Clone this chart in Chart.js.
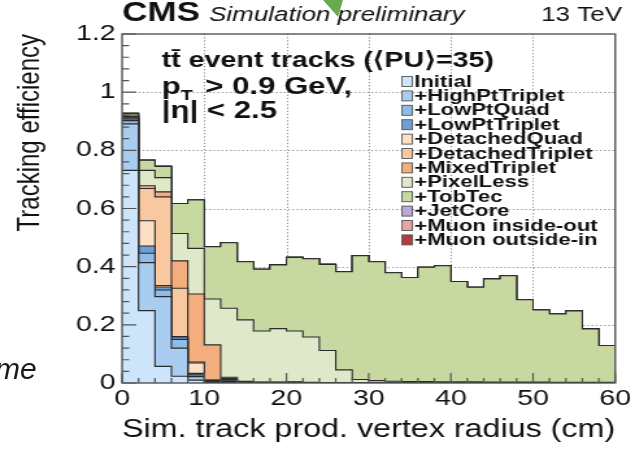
<!DOCTYPE html>
<html>
<head>
<meta charset="utf-8">
<script src="https://cdn.jsdelivr.net/npm/chart.js@4.4.1/dist/chart.umd.min.js"></script>
<style>
  html, body { margin: 0; padding: 0; background: #fff; overflow: hidden; }
  #page { position: relative; width: 635px; height: 450px; overflow: hidden; }
  #plot { position: absolute; left: 0; top: 0; width: 489px; height: 450px; transform: scaleX(1.2986); transform-origin: 0 0; }
  #arrow { position: absolute; left: 323px; top: 0; width: 20px; height: 17px; background: #6aaa4e; clip-path: polygon(0 0, 100% 0, 75% 100%); }
  #me { position: absolute; left: -5px; top: 352px; font: italic 30px "Liberation Sans", Arial, sans-serif; color: #1a1a1a; }
</style>
</head>
<body>
<div id="page">
  <div id="plot"><canvas id="chart" width="489" height="450"></canvas></div>
  <div id="arrow"></div>
  <div id="me">me</div>
</div>
<script>
// bins of 2 cm, lower edges
const binLow = [0, 2, 4, 6, 8, 10, 12, 14, 16, 18, 20, 22, 24, 26, 28, 30, 32, 34, 36, 38, 40, 42, 44, 46, 48, 50, 52, 54, 56, 58];
const binHigh = 60;

// cumulative efficiency after each iteration
const initial = [0.731, 0.249, 0.057, 0.023, 0.010, 0.002, 0.002, 0.001, 0, 0, 0, 0, 0, 0, 0, 0, 0, 0, 0, 0, 0, 0, 0, 0, 0, 0, 0, 0, 0, 0];
const highPtTriplet = [0.891, 0.414, 0.297, 0.120, 0.022, 0.004, 0.003, 0.001, 0, 0, 0, 0, 0, 0, 0, 0, 0, 0, 0, 0, 0, 0, 0, 0, 0, 0, 0, 0, 0, 0];
const lowPtQuad = [0.902, 0.446, 0.320, 0.150, 0.028, 0.005, 0.005, 0.002, 0.001, 0, 0, 0, 0, 0, 0, 0, 0, 0, 0, 0, 0, 0, 0, 0, 0, 0, 0, 0, 0, 0];
const lowPtTriplet = [0.908, 0.471, 0.330, 0.158, 0.033, 0.008, 0.010, 0.003, 0.001, 0.001, 0.001, 0, 0, 0, 0, 0, 0, 0, 0, 0, 0, 0, 0, 0, 0, 0, 0, 0, 0, 0];
const detachedQuad = [0.912, 0.558, 0.335, 0.160, 0.069, 0.009, 0.012, 0.004, 0.001, 0.001, 0.001, 0, 0, 0, 0, 0, 0, 0, 0, 0, 0, 0, 0, 0, 0, 0, 0, 0, 0, 0];
const detachedTriplet = [0.914, 0.669, 0.640, 0.326, 0.072, 0.010, 0.015, 0.005, 0.002, 0.002, 0.002, 0.001, 0, 0, 0, 0, 0, 0, 0, 0, 0, 0, 0, 0, 0, 0, 0, 0, 0, 0];
const mixedTriplet = [0.916, 0.678, 0.657, 0.420, 0.306, 0.131, 0.020, 0.006, 0.003, 0.003, 0.004, 0.002, 0.001, 0.001, 0, 0, 0, 0, 0, 0, 0, 0, 0, 0, 0, 0, 0, 0, 0, 0];
const pixelLess = [0.918, 0.731, 0.706, 0.514, 0.463, 0.289, 0.257, 0.217, 0.179, 0.187, 0.179, 0.158, 0.112, 0.045, 0.012, 0.008, 0.006, 0.005, 0.005, 0.004, 0.004, 0.004, 0.003, 0.003, 0.003, 0.003, 0.002, 0.002, 0.002, 0.002];
const tobTec = [0.925, 0.766, 0.745, 0.617, 0.629, 0.469, 0.482, 0.417, 0.391, 0.406, 0.432, 0.427, 0.408, 0.383, 0.438, 0.417, 0.379, 0.363, 0.398, 0.403, 0.349, 0.329, 0.358, 0.369, 0.286, 0.251, 0.237, 0.248, 0.186, 0.129];
const jetCore = [0.926, 0.766, 0.745, 0.617, 0.629, 0.469, 0.482, 0.417, 0.391, 0.406, 0.432, 0.427, 0.408, 0.383, 0.438, 0.417, 0.379, 0.363, 0.398, 0.403, 0.349, 0.329, 0.358, 0.369, 0.286, 0.251, 0.237, 0.248, 0.186, 0.129];
const muonInsideOut = [0.927, 0.766, 0.745, 0.617, 0.629, 0.469, 0.482, 0.417, 0.391, 0.406, 0.432, 0.427, 0.408, 0.383, 0.438, 0.417, 0.379, 0.363, 0.398, 0.403, 0.349, 0.329, 0.358, 0.369, 0.286, 0.251, 0.237, 0.248, 0.186, 0.129];
const muonOutsideIn = [0.928, 0.767, 0.745, 0.617, 0.629, 0.469, 0.482, 0.417, 0.391, 0.406, 0.432, 0.427, 0.408, 0.383, 0.438, 0.417, 0.379, 0.363, 0.398, 0.403, 0.349, 0.329, 0.358, 0.369, 0.286, 0.251, 0.237, 0.248, 0.186, 0.129];

const seriesNames = ["Initial", "+HighPtTriplet", "+LowPtQuad", "+LowPtTriplet", "+DetachedQuad", "+DetachedTriplet",
  "+MixedTriplet", "+PixelLess", "+TobTec", "+JetCore", "+Muon inside-out", "+Muon outside-in"];
const seriesValues = [initial, highPtTriplet, lowPtQuad, lowPtTriplet, detachedQuad, detachedTriplet,
  mixedTriplet, pixelLess, tobTec, jetCore, muonInsideOut, muonOutsideIn];
const seriesColors = ["#cde5fb", "#a9cdf1", "#8fbbe8", "#6d9fd6", "#fddfc6", "#f9c8a1", "#f4ae7d",
  "#dfe8c9", "#c7d9a1", "#b8a9d9", "#e9a3a3", "#b53a3a"];

const xTicks = [0, 10, 20, 30, 40, 50, 60];
const xTickLabels = ["0", "10", "20", "30", "40", "50", "60"];
const yTicks = [0, 0.2, 0.4, 0.6, 0.8, 1, 1.2];
const yTickLabels = ["0", "0.2", "0.4", "0.6", "0.8", "1", "1.2"];

const FONT = '"Liberation Sans", Arial, Helvetica, sans-serif';

function histPoints(values) {
  const pts = values.map((v, i) => ({ x: binLow[i], y: v }));
  pts.push({ x: binHigh, y: values[values.length - 1] });
  return pts;
}

const datasets = seriesValues.map((values, i) => ({
  label: seriesNames[i],
  data: histPoints(values),
  stepped: "before",
  fill: i === 0 ? "origin" : "-1",
  backgroundColor: seriesColors[i],
  borderColor: "#2a2a2a",
  borderWidth: 1.1,
  pointRadius: 0,
  tension: 0,
}));

function tickLabel(ticks, labels, v) {
  const i = ticks.findIndex((t) => Math.abs(t - v) < 1e-6);
  return i >= 0 ? labels[i] : "";
}

// ROOT style frame, inward ticks, dotted grid, header, text and legend
const decorations = {
  id: "decorations",
  beforeDatasetsDraw(chart) {
    const { ctx, chartArea: a, scales: { x, y } } = chart;
    ctx.save();
    ctx.strokeStyle = "#8c8c8c";
    ctx.lineWidth = 1;
    ctx.setLineDash([1.2, 2]);
    xTicks.slice(1, -1).forEach((t) => {
      const px = Math.round(x.getPixelForValue(t)) + 0.5;
      ctx.beginPath();
      ctx.moveTo(px, a.top);
      ctx.lineTo(px, a.bottom);
      ctx.stroke();
    });
    yTicks.slice(1, -1).forEach((t) => {
      const py = Math.round(y.getPixelForValue(t)) + 0.5;
      ctx.beginPath();
      ctx.moveTo(a.left, py);
      ctx.lineTo(a.right, py);
      ctx.stroke();
    });
    ctx.restore();
  },
  afterDatasetsDraw(chart) {
    const { ctx, chartArea: a, scales: { x, y } } = chart;
    ctx.save();
    ctx.strokeStyle = "#555";
    ctx.lineWidth = 1.2;
    ctx.beginPath();
    for (let v = 0; v <= 60.001; v += 2) {
      const px = x.getPixelForValue(v);
      const len = Math.abs(v % 10) < 1e-6 ? 10 : 5;
      ctx.moveTo(px, a.bottom);
      ctx.lineTo(px, a.bottom - len);
    }
    for (let k = 0; k <= 30; k++) {
      const v = k * 0.04;
      const py = y.getPixelForValue(v);
      const len = k % 5 === 0 ? 11 : 5.5;
      ctx.moveTo(a.left, py);
      ctx.lineTo(a.left + len, py);
    }
    ctx.stroke();
    ctx.lineWidth = 1.4;
    ctx.strokeRect(a.left, a.top, a.right - a.left, a.bottom - a.top);
    ctx.restore();
  },
  afterDraw(chart) {
    const { ctx, chartArea: a } = chart;
    ctx.save();
    ctx.fillStyle = "#111";
    ctx.textBaseline = "alphabetic";

    // header
    ctx.font = "bold 27px " + FONT;
    ctx.fillText("CMS", a.left, 21);
    ctx.font = "italic 20px " + FONT;
    ctx.fillText("Simulation preliminary", 161, 21);
    ctx.font = "20px " + FONT;
    ctx.textAlign = "right";
    ctx.fillText("13 TeV", 479, 21);
    ctx.textAlign = "left";

    // selection text
    const tx = 124.5;
    ctx.font = "bold 22px " + FONT;
    ctx.fillText("tt\u0304 event tracks (\u27e8PU\u27e9=35)", tx, 67);
    ctx.font = "bold 24px " + FONT;
    let px = tx;
    ctx.fillText("p", px, 94);
    px += ctx.measureText("p").width;
    ctx.font = "bold 15px " + FONT;
    ctx.fillText("T", px, 100);
    px += ctx.measureText("T").width + 3;
    ctx.font = "bold 24px " + FONT;
    ctx.fillText(" > 0.9 GeV,", px, 94);
    ctx.fillText("|\u03b7| < 2.5", tx, 118);

    // legend
    const lx = 309.5, ly = 81, step = 14.4;
    ctx.font = "bold 17px " + FONT;
    ctx.textBaseline = "middle";
    seriesNames.forEach((name, i) => {
      const cy = ly + i * step;
      ctx.fillStyle = seriesColors[i];
      ctx.fillRect(lx, cy - 4.5, 8, 10);
      ctx.strokeStyle = "#555";
      ctx.lineWidth = 0.9;
      ctx.strokeRect(lx, cy - 4.5, 8, 10);
      ctx.fillStyle = "#111";
      ctx.fillText(name, lx + 9.5, cy + 1);
    });
    ctx.restore();
  },
};

new Chart(document.getElementById("chart"), {
  type: "line",
  data: { datasets },
  options: {
    responsive: false,
    animation: false,
    devicePixelRatio: 1,
    layout: { padding: { top: 34, right: 14, left: 0, bottom: 0 } },
    plugins: {
      legend: { display: false },
      tooltip: { enabled: false },
      filler: { propagate: false },
    },
    scales: {
      x: {
        type: "linear",
        min: 0,
        max: 60,
        afterFit: (s) => { s.height = 67; },
        afterBuildTicks: (s) => { s.ticks = xTicks.map((v) => ({ value: v })); },
        grid: { display: false, drawTicks: false },
        border: { display: false },
        ticks: {
          padding: 3,
          color: "#111",
          font: { family: FONT, size: 22 },
          maxRotation: 0,
          callback: (v) => tickLabel(xTicks, xTickLabels, v),
        },
        title: {
          display: true,
          align: "end",
          text: "Sim. track prod. vertex radius (cm)",
          color: "#111",
          font: { family: FONT, size: 26 },
          padding: { top: 0, bottom: 5 },
        },
      },
      y: {
        min: 0,
        max: 1.2,
        afterFit: (s) => { s.width = 94; },
        afterBuildTicks: (s) => { s.ticks = yTicks.map((v) => ({ value: v })); },
        grid: { display: false, drawTicks: false },
        border: { display: false },
        ticks: {
          padding: 5,
          color: "#111",
          font: { family: FONT, size: 22 },
          callback: (v) => tickLabel(yTicks, yTickLabels, v),
        },
        title: {
          display: true,
          align: "end",
          text: "Tracking efficiency",
          color: "#111",
          font: { family: FONT, size: 24 },
          padding: { top: 9, bottom: 0 },
        },
      },
    },
  },
  plugins: [decorations],
});
</script>
</body>
</html>
